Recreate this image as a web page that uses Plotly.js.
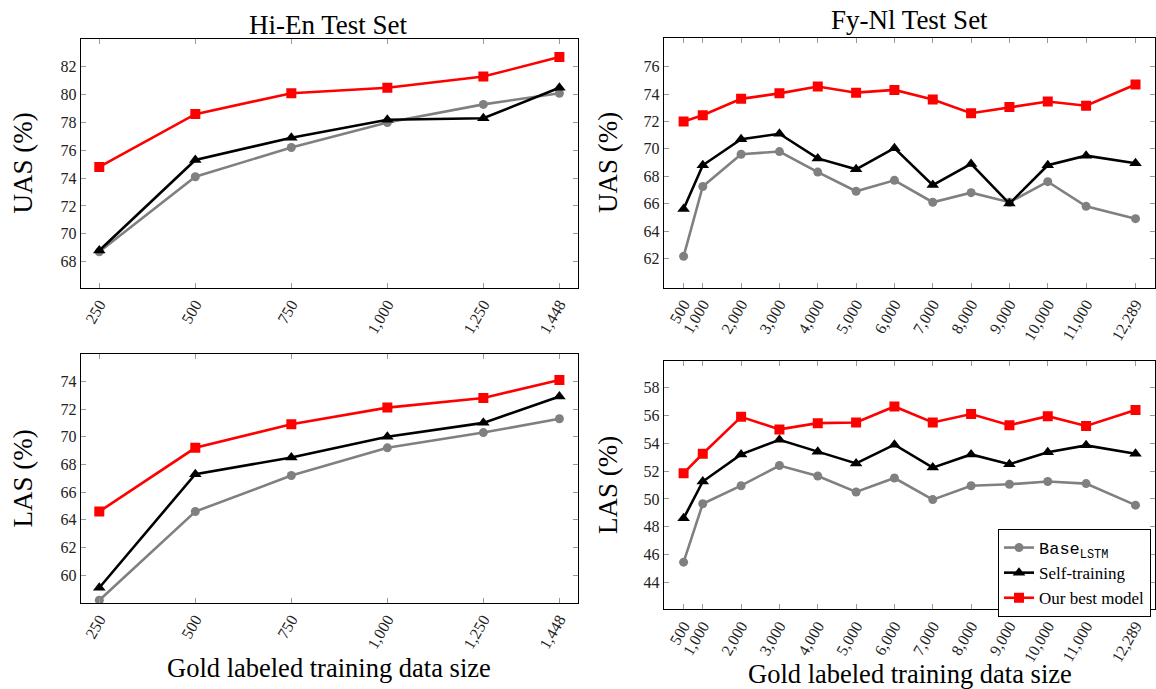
<!DOCTYPE html>
<html><head><meta charset="utf-8">
<script src="https://cdn.plot.ly/plotly-3.0.1.min.js"></script>
<style>body{margin:0;overflow:hidden;background:#fff}</style>
</head><body><div id="chart" style="width:1156px;height:689px"></div>
<script>
// ---- data ----
const hiEnSizes = [250, 500, 750, 1000, 1250, 1448];
const hiEnTickText = ["250", "500", "750", "1,000", "1,250", "1,448"];
const fyNlSizes = [500, 1000, 2000, 3000, 4000, 5000, 6000, 7000, 8000, 9000, 10000, 11000, 12289];
const fyNlTickText = ["500", "1,000", "2,000", "3,000", "4,000", "5,000", "6,000", "7,000", "8,000", "9,000", "10,000", "11,000", "12,289"];

const hiEnUasBase = [68.7, 74.1, 76.2, 78.0, 79.3, 80.1];
const hiEnUasSelf = [68.8, 75.3, 76.9, 78.2, 78.3, 80.5];
const hiEnUasBest = [74.8, 78.6, 80.1, 80.5, 81.3, 82.7];

const hiEnLasBase = [58.2, 64.6, 67.2, 69.2, 70.3, 71.3];
const hiEnLasSelf = [59.1, 67.3, 68.5, 70.0, 71.0, 72.9];
const hiEnLasBest = [64.6, 69.2, 70.9, 72.1, 72.8, 74.1];

const fyNlUasBase = [62.15, 67.25, 69.6, 69.8, 68.3, 66.9, 67.7, 66.1, 66.8, 66.1, 67.6, 65.8, 64.9];
const fyNlUasSelf = [65.6, 68.8, 70.7, 71.1, 69.3, 68.5, 70.05, 67.35, 68.9, 66.0, 68.8, 69.5, 68.95];
const fyNlUasBest = [72.0, 72.45, 73.65, 74.05, 74.55, 74.1, 74.3, 73.6, 72.6, 73.05, 73.45, 73.15, 74.7];

const fyNlLasBase = [45.45, 49.65, 50.95, 52.4, 51.65, 50.5, 51.5, 49.95, 50.95, 51.05, 51.25, 51.1, 49.55];
const fyNlLasSelf = [48.6, 51.25, 53.2, 54.25, 53.4, 52.55, 53.9, 52.25, 53.2, 52.5, 53.35, 53.85, 53.25];
const fyNlLasBest = [51.85, 53.25, 55.9, 55.0, 55.45, 55.5, 56.65, 55.5, 56.1, 55.3, 55.95, 55.25, 56.4];

const seriesNames = ["<span style=\"font-family:'Liberation Mono',monospace\">Base<sub>LSTM</sub></span>", "Self-training", "Our best model"];
const panelTitles = ["Hi-En Test Set", "Fy-Nl Test Set"];
const yTitles = ["UAS (%)", "LAS (%)"];
const xTitle = "Gold labeled training data size";

// ---- styling ----
const W = 1156, H = 689;
const px = v => v / W;
const py = v => 1 - v / H;
const FONT = "'Liberation Serif', 'Times New Roman', serif";
const styles = [
  {color: "#808080", symbol: "circle", size: 9},
  {color: "#000000", symbol: "triangle-up", size: 11},
  {color: "#ff0000", symbol: "square", size: 10}
];

function mk(x, y, i, xa, ya, legend) {
  return {
    x: x, y: y, type: "scatter", mode: "lines+markers", name: seriesNames[i],
    xaxis: xa, yaxis: ya, showlegend: legend, legendrank: i + 1,
    line: {color: styles[i].color, width: 2.6},
    marker: {color: styles[i].color, symbol: styles[i].symbol, size: styles[i].size}
  };
}

const data = [
  mk(hiEnSizes, hiEnUasBase, 0, "x", "y", false),
  mk(hiEnSizes, hiEnUasSelf, 1, "x", "y", false),
  mk(hiEnSizes, hiEnUasBest, 2, "x", "y", false),
  mk(fyNlSizes, fyNlUasBase, 0, "x2", "y2", false),
  mk(fyNlSizes, fyNlUasSelf, 1, "x2", "y2", false),
  mk(fyNlSizes, fyNlUasBest, 2, "x2", "y2", false),
  mk(hiEnSizes, hiEnLasBase, 0, "x3", "y3", false),
  mk(hiEnSizes, hiEnLasSelf, 1, "x3", "y3", false),
  mk(hiEnSizes, hiEnLasBest, 2, "x3", "y3", false),
  mk(fyNlSizes, fyNlLasBase, 0, "x4", "y4", true),
  mk(fyNlSizes, fyNlLasSelf, 1, "x4", "y4", true),
  mk(fyNlSizes, fyNlLasBest, 2, "x4", "y4", true)
];

function xax(domain, range, vals, text, anchor) {
  return {
    domain: domain, range: range, anchor: anchor, tickmode: "array", tickvals: vals, ticktext: text,
    tickangle: -60, ticks: "inside", ticklen: 5, tickwidth: 1, tickcolor: "#999",
    showline: true, linecolor: "#000", linewidth: 1, mirror: "ticks", showgrid: false, zeroline: false,
    tickfont: {family: FONT, size: 16, color: "#222"}
  };
}
function yax(domain, range, vals, anchor) {
  return {
    domain: domain, range: range, anchor: anchor, tickmode: "array", tickvals: vals,
    ticks: "inside", ticklen: 5, tickwidth: 1, tickcolor: "#999",
    showline: true, linecolor: "#000", linewidth: 1, mirror: "ticks", showgrid: false, zeroline: false,
    tickfont: {family: FONT, size: 16, color: "#222"}
  };
}
const range2 = (a, b) => { const r = []; for (let v = a; v <= b; v += 2) r.push(v); return r; };

const xL = [px(80.7), px(578)];
const xR = [px(663.8), px(1155.3)];

const layout = {
  width: W, height: H, margin: {l: 0, r: 0, t: 0, b: 0},
  paper_bgcolor: "#fff", plot_bgcolor: "#fff",
  font: {family: FONT, color: "#000"},
  xaxis: xax(xL, [201.6, 1496.4], hiEnSizes, hiEnTickText, "y"),
  yaxis: yax([py(288), py(39)], [66.1, 84.0], range2(68, 82), "x"),
  xaxis2: xax(xR, [-16.6, 12805.6], fyNlSizes, fyNlTickText, "y2"),
  yaxis2: yax([py(287.7), py(38.3)], [59.86, 78.07], range2(62, 76), "x2"),
  xaxis3: xax(xL, [201.6, 1496.4], hiEnSizes, hiEnTickText, "y3"),
  yaxis3: yax([py(603), py(354)], [58.0, 75.97], range2(60, 74), "x3"),
  xaxis4: xax(xR, [-16.6, 12805.6], fyNlSizes, fyNlTickText, "y4"),
  yaxis4: yax([py(609.3), py(360.7)], [42.06, 59.94], range2(44, 58), "x4"),
  legend: {
    x: px(998), y: py(529), xanchor: "left", yanchor: "top",
    bgcolor: "#fff", bordercolor: "#000", borderwidth: 1,
    font: {family: FONT, size: 17, color: "#000"}, itemwidth: 30, tracegroupgap: 0
  },
  annotations: [
    {text: panelTitles[0], x: px(329), y: py(25), xref: "paper", yref: "paper", xanchor: "center", yanchor: "middle", showarrow: false, font: {family: FONT, size: 27}},
    {text: panelTitles[1], x: px(909.5), y: py(20), xref: "paper", yref: "paper", xanchor: "center", yanchor: "middle", showarrow: false, font: {family: FONT, size: 27}},
    {text: yTitles[0], x: px(22), y: py(163.5), xref: "paper", yref: "paper", xanchor: "center", yanchor: "middle", textangle: -90, showarrow: false, font: {family: FONT, size: 27}},
    {text: yTitles[0], x: px(608), y: py(163), xref: "paper", yref: "paper", xanchor: "center", yanchor: "middle", textangle: -90, showarrow: false, font: {family: FONT, size: 27}},
    {text: yTitles[1], x: px(22), y: py(478.5), xref: "paper", yref: "paper", xanchor: "center", yanchor: "middle", textangle: -90, showarrow: false, font: {family: FONT, size: 27}},
    {text: yTitles[1], x: px(608), y: py(485), xref: "paper", yref: "paper", xanchor: "center", yanchor: "middle", textangle: -90, showarrow: false, font: {family: FONT, size: 27}},
    {text: xTitle, x: px(329), y: py(668), xref: "paper", yref: "paper", xanchor: "center", yanchor: "middle", showarrow: false, font: {family: FONT, size: 26.5}},
    {text: xTitle, x: px(909.5), y: py(674), xref: "paper", yref: "paper", xanchor: "center", yanchor: "middle", showarrow: false, font: {family: FONT, size: 26.5}}
  ]
};

Plotly.newPlot("chart", data, layout, {displayModeBar: false, staticPlot: true});
</script>
</body></html>
